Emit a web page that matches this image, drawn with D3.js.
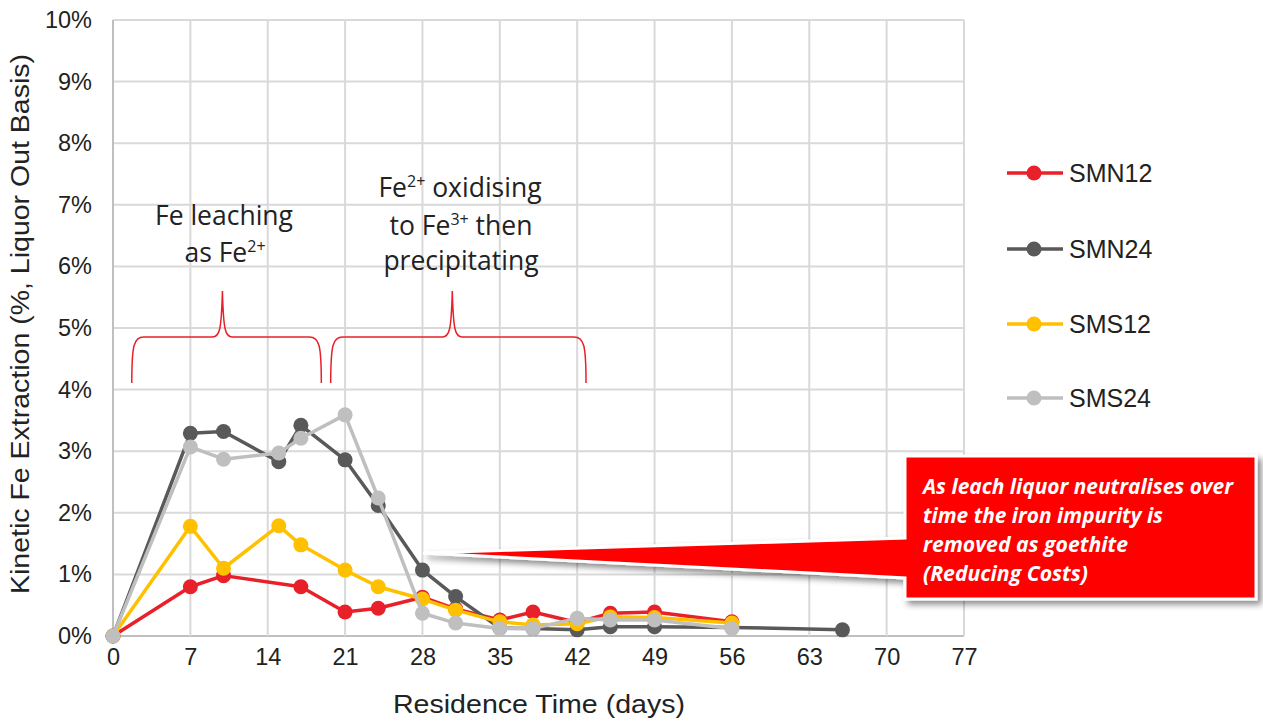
<!DOCTYPE html>
<html>
<head>
<meta charset="utf-8">
<script src="https://cdn.jsdelivr.net/npm/d3@7"></script>
<style>
  html, body { margin: 0; padding: 0; background: #fff; }
  svg { display: block; }
</style>
</head>
<body>
<svg id="chart" width="1263" height="723"></svg>
<script>
// ---- Data ----
const days = [0, 7, 10, 15, 17, 21, 24, 28, 31, 35, 38, 42, 45, 49, 56];
const daysSMN24 = [0, 7, 10, 15, 17, 21, 24, 28, 31, 35, 38, 42, 45, 49, 56, 66];
const SMN12 = [0, 0.80, 0.98, null, 0.80, 0.39, 0.45, 0.63, 0.44, 0.26, 0.39, 0.22, 0.37, 0.39, 0.23];
const SMN24 = [0, 3.29, 3.32, 2.83, 3.42, 2.86, 2.12, 1.07, 0.64, 0.13, 0.12, 0.10, 0.15, 0.15, 0.14, 0.10];
const SMS12 = [0, 1.78, 1.10, 1.79, 1.48, 1.07, 0.80, 0.60, 0.42, 0.23, 0.18, 0.20, 0.31, 0.30, 0.21];
const SMS24 = [0, 3.07, 2.87, 2.97, 3.21, 3.59, 2.24, 0.37, 0.21, 0.12, 0.12, 0.29, 0.26, 0.26, 0.12];
const seriesNames = ["SMN12", "SMN24", "SMS12", "SMS24"];
const seriesColors = ["#e8202a", "#595959", "#ffc000", "#bfbfbf"];
const xTicks = [0, 7, 14, 21, 28, 35, 42, 49, 56, 63, 70, 77];
const yTicks = [0, 1, 2, 3, 4, 5, 6, 7, 8, 9, 10];
const xTitle = "Residence Time (days)";
const yTitle = "Kinetic Fe Extraction (%, Liquor Out Basis)";
const calloutLines = ["As leach liquor neutralises over", "time the iron impurity is", "removed as goethite", "(Reducing Costs)"];

const seriesData = [
  { name: seriesNames[0], days: days, values: SMN12 },
  { name: seriesNames[1], days: daysSMN24, values: SMN24 },
  { name: seriesNames[2], days: days, values: SMS12 },
  { name: seriesNames[3], days: days, values: SMS24 }
].map((s, i) => ({
  name: s.name,
  color: seriesColors[i],
  points: s.days.map((d, j) => ({ x: d, y: s.values[j] })).filter(p => p.y !== null)
}));

// ---- Layout ----
const svg = d3.select("#chart");
const pL = 113, pR = 964, pT = 20, pB = 636;
const x = d3.scaleLinear().domain([0, 77]).range([pL, pR]);
const y = d3.scaleLinear().domain([0, 10]).range([pB, pT]);
const AXIS_FONT = "'Liberation Sans', Arial, sans-serif";
const NOTE_FONT = "'Open Sans', 'Noto Sans', sans-serif";

const defs = svg.append("defs");
const f = defs.append("filter").attr("id", "shadow").attr("x", "-10%").attr("y", "-20%").attr("width", "130%").attr("height", "150%");
f.append("feDropShadow").attr("dx", 4).attr("dy", 4).attr("stdDeviation", 3)
  .attr("flood-color", "#000").attr("flood-opacity", 0.45);

// Gridlines
const grid = svg.append("g");
grid.selectAll("line.h").data(yTicks).join("line").attr("class", "h")
  .attr("x1", pL).attr("x2", pR)
  .attr("y1", d => y(d)).attr("y2", d => y(d))
  .attr("stroke", d => d === 0 ? "#bfbfbf" : "#d9d9d9").attr("stroke-width", 2);
grid.selectAll("line.v").data(xTicks).join("line").attr("class", "v")
  .attr("x1", d => x(d)).attr("x2", d => x(d))
  .attr("y1", pT).attr("y2", pB)
  .attr("stroke", d => d === 0 ? "#bfbfbf" : "#d9d9d9").attr("stroke-width", 2);

// Axes
const xAxis = svg.append("g").attr("transform", `translate(0,${pB})`)
  .call(d3.axisBottom(x).tickValues(xTicks).tickSize(0).tickPadding(12));
const yAxis = svg.append("g").attr("transform", `translate(${pL},0)`)
  .call(d3.axisLeft(y).tickValues(yTicks).tickSize(0).tickPadding(21).tickFormat(d => d + "%"));
[xAxis, yAxis].forEach(a => {
  a.select(".domain").remove();
  a.selectAll("text").attr("font-family", AXIS_FONT).attr("font-size", 23.5).attr("fill", "#222");
});

// Axis titles
svg.append("text").attr("x", 393).attr("y", 713)
  .attr("font-family", AXIS_FONT).attr("font-size", 25).attr("fill", "#222")
  .attr("textLength", 292).attr("lengthAdjust", "spacingAndGlyphs")
  .text(xTitle);
svg.append("text").attr("transform", "translate(29,594) rotate(-90)")
  .attr("font-family", AXIS_FONT).attr("font-size", 25).attr("fill", "#222")
  .attr("textLength", 540).attr("lengthAdjust", "spacingAndGlyphs")
  .text(yTitle);

// Braces (annotation)
const braceG = svg.append("g").attr("fill", "none").attr("stroke", "#e8202a").attr("stroke-width", 1.5);
function brace(x0, x1, xm, yb, yh, yt) {
  return `M${x0},${yb} C${x0},${yh + 8} ${x0 + 2},${yh} ${x0 + 12},${yh} L${xm - 10},${yh} ` +
    `C${xm - 3},${yh} ${xm - 1},${yh - 6} ${xm},${yt} C${xm + 1},${yh - 6} ${xm + 3},${yh} ${xm + 10},${yh} ` +
    `L${x1 - 12},${yh} C${x1 - 2},${yh} ${x1},${yh + 8} ${x1},${yb}`;
}
braceG.append("path").attr("d", brace(x(1.7), x(18.85), x(9.9), 383, 337, 291));
braceG.append("path").attr("d", brace(x(19.7), x(42.8), x(30.7), 383, 337, 291));

// Annotation texts
function noteLine(parts, cx, by) {
  const t = svg.append("text").attr("x", cx).attr("y", by).attr("text-anchor", "middle")
    .attr("font-family", NOTE_FONT).attr("font-size", 26.5).attr("fill", "#222");
  parts.forEach(p => {
    const ts = t.append("tspan").text(p.t);
    if (p.sup) ts.attr("font-size", 16).attr("dy", -10);
    else if (p.after) ts.attr("dy", 10);
  });
}
noteLine([{ t: "Fe leaching" }], 224, 225);
noteLine([{ t: "as Fe" }, { t: "2+", sup: true }], 225, 262);
noteLine([{ t: "Fe" }, { t: "2+", sup: true }, { t: " oxidising", after: true }], 460, 197);
noteLine([{ t: "to Fe" }, { t: "3+", sup: true }, { t: " then", after: true }], 461, 235);
noteLine([{ t: "precipitating" }], 461, 270);

// Series lines and markers
const line = d3.line().x(d => x(d.x)).y(d => y(d.y));
const sg = svg.append("g").selectAll("g").data(seriesData).join("g");
sg.append("path").attr("d", d => line(d.points)).attr("fill", "none")
  .attr("stroke", d => d.color).attr("stroke-width", 3.5).attr("stroke-linejoin", "round");
sg.selectAll("circle").data(d => d.points.map(p => ({ ...p, color: d.color }))).join("circle")
  .attr("cx", d => x(d.x)).attr("cy", d => y(d.y)).attr("r", 7.5).attr("fill", d => d.color);

// Legend
const legY = [173, 249, 324, 398];
const lg = svg.append("g").selectAll("g").data(seriesData).join("g")
  .attr("transform", (d, i) => `translate(0,${legY[i]})`);
lg.append("line").attr("x1", 1007).attr("x2", 1063).attr("stroke", d => d.color).attr("stroke-width", 3.5);
lg.append("circle").attr("cx", 1034).attr("r", 7.5).attr("fill", d => d.color);
lg.append("text").attr("x", 1069).attr("y", 0).attr("dy", "0.35em")
  .attr("font-family", AXIS_FONT).attr("font-size", 25).attr("fill", "#222")
  .text(d => d.name);

// Callout
svg.append("path")
  .attr("d", "M905,456 L1256,456 L1256,599 L905,599 L905,578 L423,553 L905,538 Z")
  .attr("fill", "#ff0000").attr("stroke", "#fff").attr("stroke-width", 3)
  .attr("stroke-linejoin", "miter").attr("filter", "url(#shadow)");
const cw = [310, 240, 205, 165];
const cy = [494, 523, 552, 581];
svg.append("g").selectAll("text").data(calloutLines).join("text")
  .attr("x", 923).attr("y", (d, i) => cy[i])
  .attr("font-family", NOTE_FONT).attr("font-size", 21).attr("font-weight", "bold").attr("font-style", "italic")
  .attr("fill", "#fff")
  .attr("textLength", (d, i) => cw[i]).attr("lengthAdjust", "spacingAndGlyphs")
  .text(d => d);
</script>
</body>
</html>
